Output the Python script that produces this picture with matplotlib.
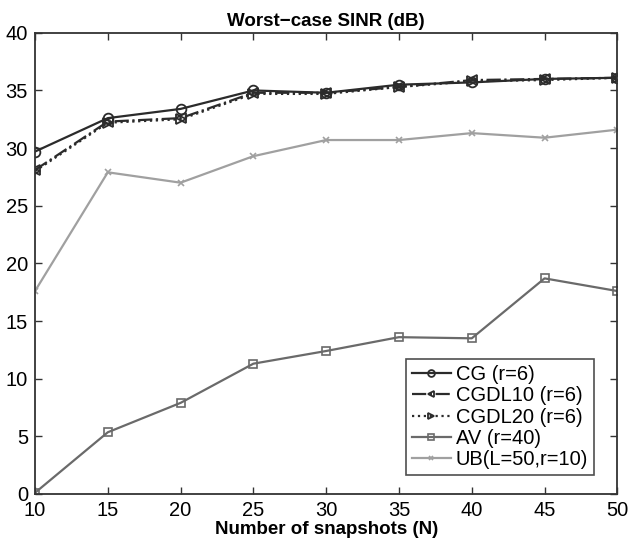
import matplotlib
matplotlib.use('Agg')
import matplotlib.pyplot as plt
import numpy as np

plt.rcParams['font.family'] = ['Liberation Sans', 'DejaVu Sans']

snapshots = [10, 15, 20, 25, 30, 35, 40, 45, 50]
cg = [29.7, 32.6, 33.4, 35.0, 34.8, 35.5, 35.7, 36.0, 36.1]
cgdl10 = [28.1, 32.3, 32.6, 34.8, 34.8, 35.3, 35.9, 36.0, 36.1]
cgdl20 = [28.0, 32.2, 32.5, 34.7, 34.7, 35.3, 35.8, 35.9, 36.1]
av = [0.1, 5.35, 7.9, 11.3, 12.4, 13.6, 13.5, 18.7, 17.6]
ub = [17.6, 27.9, 27.0, 29.3, 30.7, 30.7, 31.3, 30.9, 31.6]

fig = plt.figure(figsize=(6.33, 5.47), dpi=100)
ax = fig.add_axes([0.0553, 0.097, 0.92, 0.843])

ax.plot(snapshots, cg, '-', color='#2b2b2b', lw=1.6, marker='o', ms=7,
        mfc='none', mec='#2b2b2b', mew=1.3, label='CG (r=6)')
ax.plot(snapshots, cgdl10, '-.', color='#2b2b2b', lw=1.6, marker='<', ms=7,
        mfc='none', mec='#2b2b2b', mew=1.3, label='CGDL10 (r=6)')
ax.plot(snapshots, cgdl20, ':', color='#2b2b2b', lw=1.6, marker='>', ms=7,
        mfc='none', mec='#2b2b2b', mew=1.3, label='CGDL20 (r=6)')
ax.plot(snapshots, av, '-', color='#6a6a6a', lw=1.6, marker='s', ms=5.5,
        mfc='none', mec='#6a6a6a', mew=1.2, label='AV (r=40)')
ax.plot(snapshots, ub, '-', color='#a0a0a0', lw=1.6, marker='x', ms=5,
        mec='#a0a0a0', mew=1.2, label='UB(L=50,r=10)')

ax.set_xlim(10, 50)
ax.set_ylim(0, 40)
ax.set_xticks(np.arange(10, 51, 5))
ax.set_yticks(np.arange(0, 41, 5))
ax.tick_params(direction='in', top=True, right=True, labelsize=14.5,
               length=5, width=1, color='#333333', pad=5)
for s in ax.spines.values():
    s.set_linewidth(1.3)
    s.set_color('#333333')

ax.set_title('Worst\u2212case SINR (dB)', fontsize=13.5, fontweight='bold', pad=5)
ax.set_xlabel('Number of snapshots (N)', fontsize=13.5, fontweight='bold', labelpad=1)

leg = ax.legend(loc='lower right', bbox_to_anchor=(0.96, 0.04), fontsize=14.5,
                frameon=True, fancybox=False, edgecolor='#222222',
                handlelength=1.9, handletextpad=0.25, borderpad=0.3,
                labelspacing=0.12, borderaxespad=0, markerscale=0.7)
leg.get_frame().set_linewidth(1.2)

fig.savefig('out.png', dpi=100)
